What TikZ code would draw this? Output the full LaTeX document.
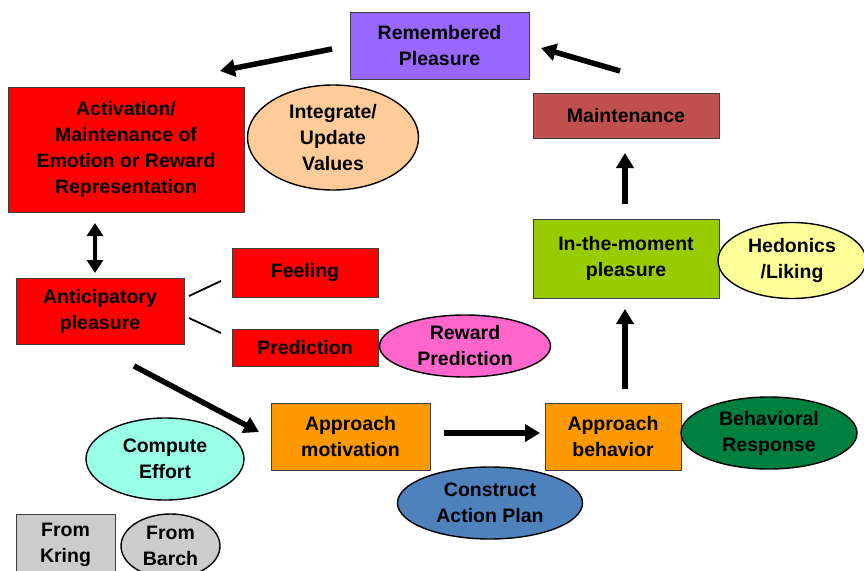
\documentclass[tikz,border=0pt]{standalone}
\usepackage{fontspec}
\setmainfont{Liberation Sans}
\usetikzlibrary{arrows.meta,shapes.geometric}
\definecolor{cpurple}{HTML}{9966FF}
\definecolor{cred}{HTML}{FF0000}
\definecolor{cpeach}{HTML}{FFCC99}
\definecolor{cmaint}{HTML}{C0504D}
\definecolor{cgreen}{HTML}{99CC00}
\definecolor{cyellow}{HTML}{FFFF99}
\definecolor{cpink}{HTML}{FF66CC}
\definecolor{corange}{HTML}{FF9900}
\definecolor{cdkgreen}{HTML}{00803F}
\definecolor{caqua}{HTML}{99FFE6}
\definecolor{cblue}{HTML}{4F81BD}
\definecolor{cgray}{HTML}{CCCCCC}
\definecolor{cedge}{HTML}{404040}
\tikzset{
  txt/.style={font=\fontsize{19.5}{26}\selectfont\bfseries, align=center, text=black, inner sep=0pt},
  box/.style={txt, draw=cedge, line width=1pt, rectangle},
  oval/.style={txt, draw=black, line width=1.4pt, ellipse},
  arr/.style={line width=5.5pt, -{Triangle[length=15pt,width=17pt]}},
  darr/.style={line width=4.5pt, {Triangle[length=13pt,width=16pt]}-{Triangle[length=13pt,width=16pt]}},
  link/.style={line width=1.8pt}
}
\begin{document}
\begin{tikzpicture}[x=1pt,y=-1pt]
\useasboundingbox[fill=white] (0,0) rectangle (864,570);
% boxes
\node[box, fill=cpurple, minimum width=179pt, minimum height=67pt] (rem) at (439.5,45.5) {Remembered\\Pleasure};
\node[box, fill=cred, minimum width=236pt, minimum height=125pt] (act) at (126,149.5) {Activation/\\Maintenance of\\Emotion or Reward\\Representation};
\node[oval, fill=cpeach, minimum width=171pt, minimum height=105pt] (integ) at (333,137.5) {Integrate/\\Update\\Values};
\node[box, fill=cmaint, minimum width=186pt, minimum height=45pt] (maint) at (626,115.5) {Maintenance};
\node[box, fill=cgreen, minimum width=186pt, minimum height=79pt] (itm) at (626,258.5) {In-the-moment\\pleasure};
\node[oval, fill=cyellow, minimum width=148pt, minimum height=76pt] (hed) at (792,260.5) {Hedonics\\/Liking};
\node[box, fill=cred, minimum width=168pt, minimum height=66pt] (ant) at (100,311) {Anticipatory\\pleasure};
\node[box, fill=cred, minimum width=146pt, minimum height=49pt] (feel) at (305,272.5) {Feeling};
\node[box, fill=cred, minimum width=146pt, minimum height=37pt] (pred) at (305,347.5) {Prediction};
\node[oval, fill=cpink, minimum width=171pt, minimum height=62pt] (rewp) at (465,346) {Reward\\Prediction};
\node[box, fill=corange, minimum width=159pt, minimum height=67pt] (am) at (350.5,436.5) {Approach\\motivation};
\node[box, fill=corange, minimum width=136pt, minimum height=67pt] (ab) at (613,436.5) {Approach\\behavior};
\node[oval, fill=cdkgreen, minimum width=176pt, minimum height=72pt] (beh) at (769,433) {Behavioral\\Response};
\node[oval, fill=caqua, minimum width=158pt, minimum height=82pt] (comp) at (165,459) {Compute\\Effort};
\node[oval, fill=cblue, minimum width=185pt, minimum height=72pt] (cap) at (490,503) {Construct\\Action Plan};
\node[box, fill=cgray, minimum width=99pt, minimum height=62pt] (kring) at (65.5,545) {From\\Kring};
\node[oval, fill=cgray, minimum width=99pt, minimum height=64pt] (barch) at (170.5,546) {From\\Barch};
% connector end points
\coordinate (remT) at (332,49);
\coordinate (actH) at (220,71);
\coordinate (maintT) at (620,71);
\coordinate (remH) at (541,48);
\coordinate (itmT) at (625,204);
\coordinate (maintH) at (625,153);
\coordinate (abT) at (625,389);
\coordinate (itmH) at (625,309);
\coordinate (actD) at (95,223);
\coordinate (antD) at (95,273);
\coordinate (antF) at (189,296);
\coordinate (feelL) at (221,281);
\coordinate (antP) at (189,318);
\coordinate (predL) at (221,333);
\coordinate (antM) at (134,366);
\coordinate (amH) at (259,432);
\coordinate (amT) at (444,433);
\coordinate (abH) at (540,433);
% connectors
\draw[arr] (remT) -- (actH);
\draw[arr] (maintT) -- (remH);
\draw[arr] (itmT) -- (maintH);
\draw[arr] (abT) -- (itmH);
\draw[darr] (actD) -- (antD);
\draw[link] (antF) -- (feelL);
\draw[link] (antP) -- (predL);
\draw[arr] (antM) -- (amH);
\draw[arr] (amT) -- (abH);
\end{tikzpicture}
\end{document}
